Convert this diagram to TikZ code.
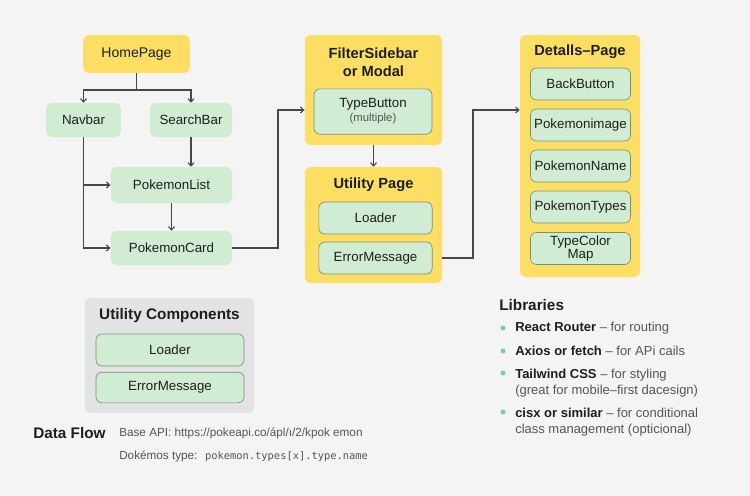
\documentclass[tikz,border=0pt]{standalone}
\usepackage{fontspec}
\setmainfont{Liberation Sans}
\setmonofont{DejaVu Sans Mono}
\usetikzlibrary{arrows.meta}
\usetikzlibrary{positioning}
\definecolor{bggray}{HTML}{F4F4F4}
\definecolor{pageyellow}{HTML}{FCDF62}
\definecolor{compgreen}{HTML}{D0ECD2}
\definecolor{leafborder}{HTML}{7C8C7C}
\definecolor{grpgray}{HTML}{E1E3E4}
\definecolor{linegray}{HTML}{474747}
\definecolor{textdark}{HTML}{1E1E1E}
\definecolor{textgray}{HTML}{555555}
\definecolor{bulletgreen}{HTML}{86C8A0}

\begin{document}
\begin{tikzpicture}[x=0.75pt,y=-0.75pt,
    line/.style={draw=linegray, line width=0.8pt},
    arr/.style={line, -{Straight Barb[length=2.5pt,width=4.5pt]}},
    page/.style={fill=pageyellow, rounded corners=4.5pt, inner sep=0pt},
    grp/.style={fill=grpgray, rounded corners=4.5pt, inner sep=0pt},
    comp/.style={fill=compgreen, rounded corners=4.5pt, inner sep=0pt, text=textdark,
        font=\fontsize{10}{11.5}\selectfont, align=center},
    leaf/.style={comp, draw=leafborder, line width=0.5pt},
    title/.style={text=textdark, font=\bfseries\fontsize{11}{13.5}\selectfont, align=center},
    head/.style={text=textdark, font=\bfseries\fontsize{11.5}{14}\selectfont},
    small/.style={text=textgray, font=\fontsize{8.8}{10}\selectfont, inner sep=0pt},
    libtxt/.style={text=textgray, font=\fontsize{9.75}{12}\selectfont, inner sep=0pt, align=left}]

    \useasboundingbox[fill=bggray] (0,0) rectangle (750,496);

    % home page tree
    \node[page, minimum width=80pt, minimum height=28.5pt, text=textdark,
        font=\fontsize{10.5}{12}\selectfont] (home) at (136.5,54) {HomePage};
    \node[comp, minimum width=56pt, minimum height=25.5pt] (navbar) at (83.5,120) {Navbar};
    \node[comp, minimum width=61.5pt, minimum height=25.5pt] (search) at (191,120) {SearchBar};
    \node[comp, minimum width=91pt, minimum height=27pt] (list) at (171.5,185) {PokemonList};
    \node[comp, minimum width=91pt, minimum height=25.5pt] (card) at (171.5,248) {PokemonCard};

    \coordinate (split) at (136.5,90);
    \draw[line] (home) -- (split);
    \draw[arr] (split) -| (navbar);
    \draw[arr] (split) -| (search);
    \draw[arr] (search) -- (search |- list.north);
    \draw[arr] (navbar.south |- list.west) -- (list.west);
    \draw[arr] (navbar) |- (card);
    \draw[arr] (card.north |- list.south) -- (card);

    % filter sidebar
    \node[page, minimum width=103pt, minimum height=82.5pt] (filter) at (373.5,90) {};
    \node[title] (ftitle) at (373.5,62.5) {FilterSidebar\\or Modal};
    \node[leaf, minimum width=88.5pt, minimum height=34pt] (typebtn) at (373,111.5)
        {TypeButton\\[-1pt]{\color{textgray}\fontsize{8.5}{10}\selectfont(multiple)}};

    % utility page
    \node[page, minimum width=103pt, minimum height=87pt] (util) at (373.5,225) {};
    \node[title] (utitle) at (373.5,185) {Utility Page};
    \node[leaf, minimum width=85pt, minimum height=24pt] (uload) at (375.5,218) {Loader};
    \node[leaf, minimum width=85pt, minimum height=24pt] (uerr) at (375.5,258) {ErrorMessage};

    % details page
    \node[page, minimum width=90pt, minimum height=181.5pt] (details) at (580,156) {};
    \node[title] (dtitle) at (580,52) {Detalls–Page};
    \foreach \y/\nm/\txt in {84/back/BackButton, 125/pimg/Pokemonimage, 166/pname/PokemonName,
        207/ptypes/PokemonTypes, 248.5/tcmap/{TypeColor\\[-2pt]Map}}
        \node[leaf, minimum width=75pt, minimum height=24pt] (\nm) at (580.5,\y) {\txt};

    \coordinate (bend1) at (278,110);
    \coordinate (bend2) at (473,110);
    \draw[arr] (card) -| (bend1) -- (bend1 -| filter.west);
    \draw[arr] (filter) -- (util);
    \draw[arr] (uerr -| util.east) -| (bend2) -- (bend2 -| details.west);

    % utility components
    \node[grp, minimum width=127pt, minimum height=86pt] (ucomp) at (169.5,355.5) {};
    \node[title, font=\bfseries\fontsize{11.5}{14}\selectfont] (ctitle) at (169.5,316) {Utility Components};
    \node[leaf, minimum width=111pt, minimum height=24pt] (cload) at (170,350) {Loader};
    \node[leaf, minimum width=111pt, minimum height=23pt] (cerr) at (170,387.5) {ErrorMessage};

    % data flow
    \node[head, anchor=west, inner sep=0pt] (flow) at (33,433) {Data Flow};
    \node[small, anchor=west] (api) at (119,433) {Base API: https://pokeapi.co/ápl/ı/2/kpok emon};
    \node[small, anchor=west] (ptype) at (119,456)
        {Dokémos type: \ {\ttfamily\fontsize{7.8}{10}\selectfont pokemon.types[x].type.name}};

    % libraries
    \node[head, anchor=west, inner sep=0pt] (libs) at (499,305) {Libraries};
    \foreach \y in {328,351,373,412}
        \fill[bulletgreen] (503,\y) circle (1.9pt);
    \node[libtxt, anchor=west] (lib1) at (515,328) {{\color{textdark}\bfseries React Router} – for routing};
    \node[libtxt, anchor=west] (lib2) at (515,351) {{\color{textdark}\bfseries Axios or fetch} – for APi cails};
    \node[libtxt, anchor=north west] (lib3) at (515,368.5)
        {{\color{textdark}\bfseries Tailwind CSS} – for styling\\(great for mobile–first dacesign)};
    \node[libtxt, anchor=north west] (lib4) at (515,407.5)
        {{\color{textdark}\bfseries cisx or similar} – for conditional\\class management (opticional)};
\end{tikzpicture}
\end{document}
